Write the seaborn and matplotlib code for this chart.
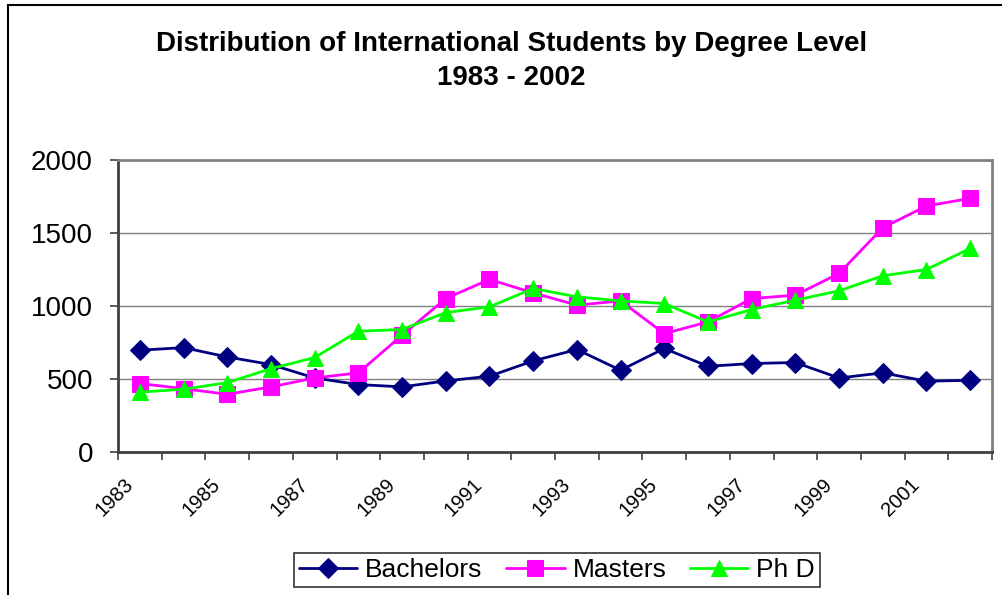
import numpy as np
import pandas as pd
import matplotlib
matplotlib.use("Agg")
import matplotlib.pyplot as plt
import matplotlib.transforms as mtransforms
import seaborn as sns
from matplotlib.patches import Rectangle

years = list(range(1983, 2003))
bachelors = [697, 715, 651, 599, 507, 462, 446, 487, 519, 624,
             702, 560, 709, 587, 606, 613, 507, 542, 485, 491]
masters = [469, 434, 395, 446, 507, 542, 800, 1051, 1182, 1090,
           1006, 1035, 811, 891, 1051, 1074, 1223, 1536, 1685, 1737]
phd = [410, 430, 475, 571, 647, 827, 839, 955, 994, 1120,
       1063, 1035, 1017, 891, 976, 1040, 1104, 1207, 1250, 1394]
series_names = ["Bachelors", "Masters", "Ph D"]
ytick_vals = [0, 500, 1000, 1500, 2000]
xtick_labels = [str(y) for y in range(1983, 2002, 2)]
title = "Distribution of International Students by Degree Level\n1983 - 2002"

df = pd.DataFrame({
    "Year": years * 3,
    "Value": bachelors + masters + phd,
    "Series": [series_names[0]] * 20 + [series_names[1]] * 20 + [series_names[2]] * 20,
})

sns.set_theme(style="white")
plt.rcParams['font.family'] = ['Liberation Sans', 'DejaVu Sans']
plt.rcParams['text.color'] = 'black'
plt.rcParams['xtick.color'] = 'black'
plt.rcParams['ytick.color'] = 'black'
plt.rcParams['xtick.labelcolor'] = 'black'
plt.rcParams['ytick.labelcolor'] = 'black'

fig = plt.figure(figsize=(10.03, 5.95), dpi=100)
ax = fig.add_axes([118/1003, 1-452/595, (992-118)/1003, (452-160)/595])

palette = {"Bachelors": "#000080", "Masters": "#FF00FF", "Ph D": "#00FF00"}
markers = {"Bachelors": "D", "Masters": "s", "Ph D": "^"}
sizes_ms = {"Bachelors": 10, "Masters": 12, "Ph D": 12}

for name in series_names:
    sub = df[df["Series"] == name]
    sns.lineplot(data=sub, x="Year", y="Value", ax=ax, color=palette[name],
                 marker=markers[name], markersize=sizes_ms[name],
                 markeredgecolor=palette[name], linewidth=2.0, label=name,
                 legend=False)

ax.set_xlim(1982.5, 2002.5)
ax.set_ylim(0, 2000)
ax.set_yticks(ytick_vals)
ax.set_yticklabels([str(v) for v in ytick_vals], fontsize=20, color="black")
ax.yaxis.grid(True, color="#808080", linewidth=1.0)
ax.xaxis.grid(False)
ax.set_axisbelow(True)

ax.set_xticks(np.arange(1982.5, 2003.0, 1.0))
ax.set_xticklabels([])
ax.set_xticks(list(range(1983, 2002, 2)), minor=True)
ax.set_xticklabels(xtick_labels, minor=True, rotation=45, ha="right",
                   va="center", rotation_mode="anchor", fontsize=14.5, color="black")
ax.tick_params(axis="x", which="major", direction="out", length=6, width=1.2,
               color="#404040", bottom=True)
ax.tick_params(axis="x", which="minor", length=0, pad=21, bottom=True)
ax.tick_params(axis="y", which="major", direction="out", length=6, width=1.2,
               color="#404040", left=True, pad=12)
ax.set_xlabel("")
ax.set_ylabel("")

offset = mtransforms.ScaledTranslation(-7/72, 0, fig.dpi_scale_trans)
for lbl in ax.get_xticklabels(minor=True):
    lbl.set_transform(lbl.get_transform() + offset)

for side in ["left", "bottom"]:
    ax.spines[side].set_color("#404040")
    ax.spines[side].set_linewidth(2.0)
for side in ["top", "right"]:
    ax.spines[side].set_color("#808080")
    ax.spines[side].set_linewidth(2.0)

fig.suptitle(title, x=0.51, y=0.948, fontsize=20, fontweight="bold",
             linespacing=1.4, color="black")

handles, labels = ax.get_legend_handles_labels()
leg = fig.legend(handles, labels, loc="center", bbox_to_anchor=(557/1003, 1-570/595),
                 ncol=3, frameon=True, fancybox=False, edgecolor="black",
                 prop={'size': 19}, labelcolor="black",
                 handlelength=2.2, handletextpad=0.3, columnspacing=0.9,
                 borderpad=0.2, borderaxespad=0)
leg.get_frame().set_linewidth(1.2)

fig.patches.append(Rectangle((8/1003, -0.1), 1.2, 1.1 - 5/595,
                             transform=fig.transFigure, fill=False,
                             edgecolor="black", linewidth=1.5))

fig.savefig("out.png", dpi=100)
